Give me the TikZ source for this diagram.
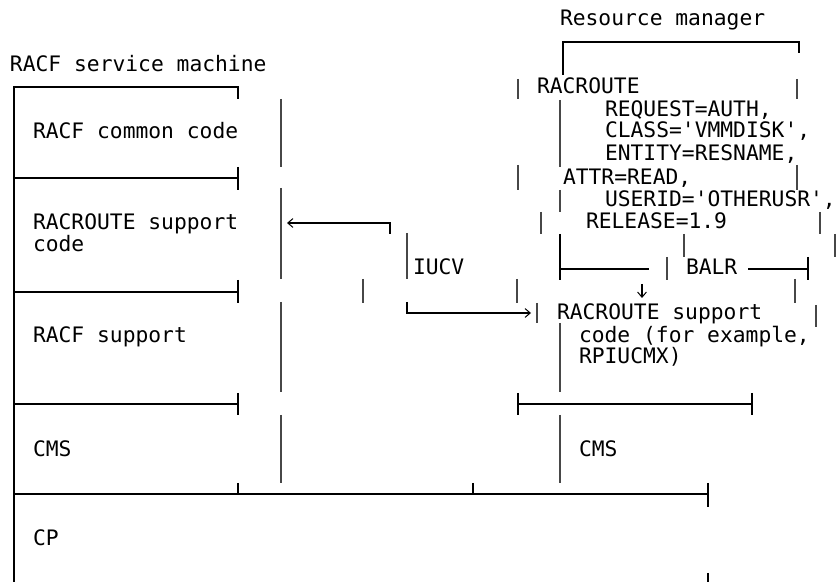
\documentclass[tikz,border=0pt]{standalone}
\usepackage{fontspec}
\setmonofont{DejaVu Sans Mono}
\usetikzlibrary{arrows.meta}
\tikzset{
  txt/.style={anchor=base west,inner sep=0pt,outer sep=0pt,text=black,
    font=\ttfamily\fontsize{10.65pt}{11.3pt}\selectfont},
  boxline/.style={draw=black,line width=0.55pt},
  pipe/.style={draw=black!72,line width=0.7pt},
  arr/.style={boxline,-{Straight Barb[length=2.6pt,width=4.4pt,line width=0.5pt]}},
}
\begin{document}
\begin{tikzpicture}[x=0.5pt,y=-0.5pt]
\useasboundingbox[fill=white] (0,0) rectangle (836,582);

% ---- texts ----
\node[txt] (rsm) at (10,72) {RACF service machine};
\node[txt] (rm) at (560,26) {Resource manager};
\node[txt] (common) at (33,139) {RACF common code};
\node[txt] (sup1) at (33,230) {RACROUTE support};
\node[txt] (sup2) at (33,252) {code};
\node[txt] (racfsup) at (33,343) {RACF support};
\node[txt] (cms1) at (33,457) {CMS};
\node[txt] (cp) at (33,546) {CP};
\node[txt] (iucv) at (413,275) {IUCV};
\node[txt] (r1) at (537,94) {RACROUTE};
\node[txt] (r2) at (605,117) {REQUEST=AUTH,};
\node[txt] (r3) at (605,138) {CLASS='VMMDISK',};
\node[txt] (r4) at (605,161) {ENTITY=RESNAME,};
\node[txt] (r5) at (563,185) {ATTR=READ,};
\node[txt] (r6) at (605,207) {USERID='OTHERUSR',};
\node[txt] (r7) at (586,229) {RELEASE=1.9};
\node[txt] (balr) at (686,275) {BALR};
\node[txt] (c1) at (557,320) {RACROUTE support};
\node[txt] (c2) at (579,343) {code (for example,};
\node[txt] (c3) at (579,364) {RPIUCMX)};
\node[txt] (cms2) at (579,457) {CMS};

% ---- left stack (box drawing) ----
\draw[boxline] (14,582) -- (14,87) -- (238,87) -- (238,99);
\draw[boxline] (14,178) -- (238,178) (238,167) -- (238,190);
\draw[boxline] (14,292) -- (238,292) (238,280) -- (238,303);
\draw[boxline] (14,404) -- (238,404) (238,393) -- (238,415);
\draw[boxline] (14,494) -- (708,494);
\draw[boxline] (238,483) -- (238,494) (473,483) -- (473,494) (708,483) -- (708,507);
\draw[boxline] (708,573) -- (708,582);

% ---- left pipes ----
\draw[pipe] (281,99) -- (281,167) (281,188) -- (281,279)
            (281,302) -- (281,392) (281,415) -- (281,483);

% ---- middle ----
\draw[pipe] (407,233) -- (407,279);
\draw[pipe] (363,279) -- (363,303);
\coordinate (la0) at (390,234);
\coordinate (la1) at (390,223);
\coordinate (la2) at (287,223);
\draw[arr] (la0) -- (la1) -- (la2);
\coordinate (ra0) at (407,302);
\coordinate (ra1) at (407,313);
\coordinate (ra2) at (531,313);
\draw[arr] (ra0) -- (ra1) -- (ra2);

% ---- resource manager ----
\draw[boxline] (563,75) -- (563,42) -- (799,42) -- (799,53);
\draw[pipe] (518,79) -- (518,99) (797,79) -- (797,99);
\draw[pipe] (560,100) -- (560,167);
\draw[pipe] (518,165) -- (518,190) (797,165) -- (797,190);
\draw[pipe] (560,190) -- (560,212);
\draw[pipe] (541,212) -- (541,234) (820,212) -- (820,234);
\draw[boxline] (560,234) -- (560,280) (560,269) -- (649,269);
\draw[pipe] (684,234) -- (684,257) (835,234) -- (835,257);
\draw[pipe] (667,257) -- (667,280);
\draw[boxline] (748,269) -- (808,269) (808,257) -- (808,280);
\draw[pipe] (517,279) -- (517,303) (795,279) -- (795,303);
\coordinate (da0) at (642,284);
\coordinate (da1) at (642,298);
\draw[arr] (da0) -- (da1);
\draw[pipe] (537,303) -- (537,323) (816,305) -- (816,327);
\draw[pipe] (560,323) -- (560,392);
\draw[boxline] (518,404) -- (752,404) (518,393) -- (518,415) (752,393) -- (752,415);
\draw[pipe] (560,415) -- (560,483);
\end{tikzpicture}
\end{document}
